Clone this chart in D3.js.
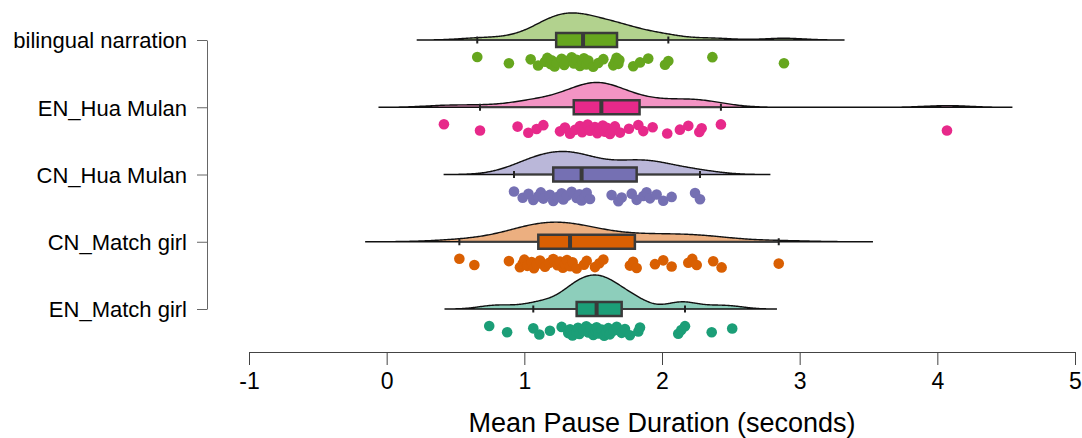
<!DOCTYPE html>
<html>
<head>
<meta charset="utf-8">
<script src="https://cdn.jsdelivr.net/npm/d3@7"></script>
<style>
  body { margin: 0; background: #fff; }
  text { font-family: "Liberation Sans", Arial, sans-serif; fill: #000; }
</style>
</head>
<body>
<div id="chart"></div>
<script>
const groups = ['bilingual narration', 'EN_Hua Mulan', 'CN_Hua Mulan', 'CN_Match girl', 'EN_Match girl']
const colors = ['#66a61e', '#e7298a', '#7570b3', '#d95f02', '#1b9e77']
const xTicks = [-1, 0, 1, 2, 3, 4, 5]
const xTitle = 'Mean Pause Duration (seconds)'

// mean pause durations per speaker
const bilingual = [0.658, 0.888, 1.046, 1.1, 1.15, 1.167, 1.19, 1.198, 1.22, 1.235, 1.271, 1.29,
  1.307, 1.344, 1.36, 1.38, 1.404, 1.42, 1.433, 1.45, 1.465, 1.5, 1.537, 1.574, 1.646, 1.66, 1.67,
  1.683, 1.69, 1.791, 1.84, 1.9, 2.022, 2.046, 2.366, 2.886]
const enHua = [0.416, 0.678, 0.951, 1.029, 1.089, 1.138, 1.259, 1.295, 1.332, 1.368, 1.404, 1.42,
  1.44, 1.46, 1.477, 1.513, 1.53, 1.549, 1.57, 1.586, 1.6, 1.622, 1.64, 1.658, 1.695, 1.76, 1.828,
  1.864, 1.932, 2.038, 2.13, 2.191, 2.271, 2.288, 2.428, 4.07]
const cnHua = [0.925, 0.988, 1.03, 1.065, 1.101, 1.12, 1.138, 1.186, 1.21, 1.24, 1.271, 1.283, 1.31,
  1.344, 1.38, 1.4, 1.416, 1.44, 1.453, 1.477, 1.634, 1.683, 1.707, 1.78, 1.816, 1.864, 1.888,
  1.913, 1.961, 2.009, 2.07, 2.24, 2.276]
const cnMatch = [0.528, 0.637, 0.888, 0.968, 0.988, 1.0, 1.021, 1.053, 1.07, 1.089, 1.114, 1.15,
  1.18, 1.21, 1.24, 1.259, 1.28, 1.295, 1.31, 1.332, 1.35, 1.38, 1.433, 1.453, 1.513, 1.545, 1.574,
  1.767, 1.79, 1.816, 1.949, 2.009, 2.07, 2.191, 2.22, 2.252, 2.372, 2.433, 2.848]
const enMatch = [0.745, 0.875, 1.065, 1.109, 1.186, 1.271, 1.319, 1.332, 1.35, 1.38, 1.39, 1.4,
  1.428, 1.45, 1.465, 1.48, 1.501, 1.52, 1.525, 1.54, 1.562, 1.58, 1.598, 1.61, 1.622, 1.65, 1.671,
  1.707, 1.731, 1.767, 1.828, 1.84, 2.118, 2.14, 2.167, 2.361, 2.51]
const values = [bilingual, enHua, cnHua, cnMatch, enMatch]

const WIDTH = 1082
const HEIGHT = 438
const AXIS_Y = 352

const svg = d3.select('#chart')
  .append('svg')
    .attr('width', WIDTH)
    .attr('height', HEIGHT)

const x = d3.scaleLinear().domain([-1, 5]).range([249, 1075])
const y = d3.scalePoint().domain(groups).range([40, 309])

// gaussian kde, bandwidth like R's bw.nrd0, cut = 3
function kde(data) {
  const s = data.slice().sort(d3.ascending)
  const n = s.length
  const iqr = d3.quantile(s, 0.75) - d3.quantile(s, 0.25)
  const bw = 0.9 * Math.min(d3.deviation(s), iqr / 1.34) * Math.pow(n, -0.2)
  const lo = s[0] - 3 * bw
  const hi = s[n - 1] + 3 * bw
  return d3.range(0, 401).map(i => {
    const t = lo + (hi - lo) * i / 400
    const d = d3.sum(s, v => Math.exp(-0.5 * ((t - v) / bw) ** 2)) / (n * bw * Math.sqrt(2 * Math.PI))
    return [t, d]
  })
}

function boxStats(data) {
  const s = data.slice().sort(d3.ascending)
  const q1 = d3.quantile(s, 0.25)
  const med = d3.quantile(s, 0.5)
  const q3 = d3.quantile(s, 0.75)
  const iqr = q3 - q1
  const lo = d3.min(s.filter(v => v >= q1 - 1.5 * iqr))
  const hi = d3.max(s.filter(v => v <= q3 + 1.5 * iqr))
  return { q1, med, q3, lo, hi }
}

const dens = values.map(kde)
const maxD = d3.max(dens, g => d3.max(g, d => d[1]))
const h = d3.scaleLinear().domain([0, maxD]).range([0, 34])

groups.forEach((g, i) => {
  const base = y(g)
  const col = colors[i]
  const row = svg.append('g')

  // half violin
  const area = d3.area()
    .x(d => x(d[0]))
    .y0(base)
    .y1(d => base - h(d[1]))
  row.append('path')
    .datum(dens[i])
    .attr('d', area)
    .attr('fill', col)
    .attr('fill-opacity', 0.5)
    .attr('stroke', '#111')
    .attr('stroke-width', 1.4)

  // box plot
  const b = boxStats(values[i])
  row.append('line')
    .attr('x1', x(b.lo)).attr('x2', x(b.hi))
    .attr('y1', base).attr('y2', base)
    .attr('stroke', '#3a3a3a').attr('stroke-width', 2.2)
  row.selectAll('.cap')
    .data([b.lo, b.hi])
    .enter().append('line')
      .attr('x1', d => x(d)).attr('x2', d => x(d))
      .attr('y1', base - 3.5).attr('y2', base + 3.5)
      .attr('stroke', '#222').attr('stroke-width', 2)
  row.append('rect')
    .attr('x', x(b.q1))
    .attr('y', base - 7)
    .attr('width', x(b.q3) - x(b.q1))
    .attr('height', 14)
    .attr('fill', col)
    .attr('stroke', '#3a3a3a')
    .attr('stroke-width', 2.5)
  row.append('line')
    .attr('x1', x(b.med)).attr('x2', x(b.med))
    .attr('y1', base - 7).attr('y2', base + 7)
    .attr('stroke', '#3a3a3a').attr('stroke-width', 4)

  // rain
  row.selectAll('circle')
    .data(values[i])
    .enter().append('circle')
      .attr('cx', d => x(d))
      .attr('cy', (d, j) => base + 22 + (((j * 0.618034) % 1) - 0.5) * 10)
      .attr('r', 5.3)
      .attr('fill', col)
})

// y axis
const yAxis = svg.append('g')
  .attr('transform', 'translate(207, 0)')
  .call(d3.axisLeft(y).tickSize(10).tickSizeOuter(0).tickPadding(10))
yAxis.select('.domain').attr('stroke', '#666')
yAxis.selectAll('.tick line').attr('stroke', '#666')
yAxis.selectAll('.tick text')
  .attr('dy', '0.36em')
  .attr('font-size', 22)
  .attr('fill', '#000')

// x axis
const xAxis = svg.append('g')
  .attr('transform', `translate(0, ${AXIS_Y})`)
  .call(d3.axisBottom(x).tickValues(xTicks).tickFormat(d => String(d)).tickSize(13).tickSizeOuter(0))
xAxis.select('.domain').attr('stroke', '#444')
xAxis.selectAll('.tick line').attr('stroke', '#444')
xAxis.selectAll('.tick text')
  .attr('y', 37).attr('dy', null)
  .attr('font-size', 23)
  .attr('fill', '#000')

svg.append('text')
  .attr('x', x(2))
  .attr('y', 432)
  .attr('text-anchor', 'middle')
  .attr('font-size', 27)
  .text(xTitle)
</script>
</body>
</html>
